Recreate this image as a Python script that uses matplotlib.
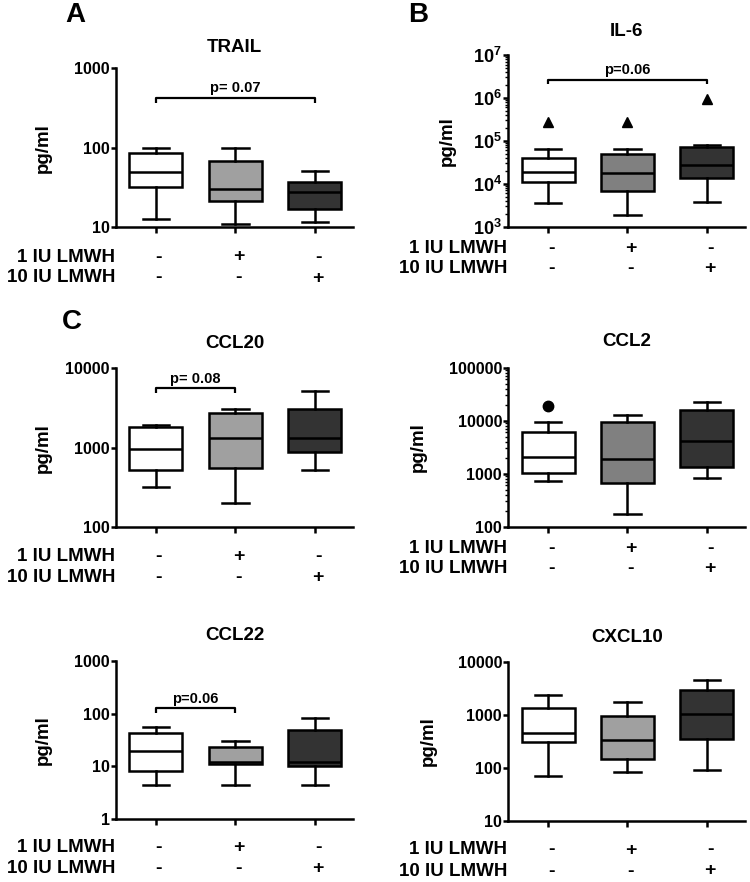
import numpy as np
import matplotlib.pyplot as plt
from matplotlib.ticker import LogLocator, NullLocator, NullFormatter
from matplotlib.transforms import blended_transform_factory

plt.rcParams['font.family'] = ['Liberation Sans', 'DejaVu Sans']
plt.rcParams['font.weight'] = 'bold'
plt.rcParams['mathtext.fontset'] = 'custom'
plt.rcParams['mathtext.rm'] = 'Liberation Sans:bold'
plt.rcParams['mathtext.bf'] = 'Liberation Sans:bold'
plt.rcParams['mathtext.it'] = 'Liberation Sans:bold'

W, H = 750, 882

row_labels = ['1 IU LMWH', '10 IU LMWH']
row_signs = [['-', '+', '-'], ['-', '-', '+']]

# five-number summaries per group: whisker low, q1, median, q3, whisker high
trail = [[12.6, 32, 49, 86, 98], [11, 21.4, 30, 68, 98], [11.7, 17.1, 28, 37.5, 50.6]]
il6 = [[3500, 11000, 18800, 40000, 64700], [1840, 6900, 17900, 49400, 64700],
       [3770, 13400, 27900, 73300, 80200]]
il6_out = [[2.8e5], [2.8e5], [9.3e5]]
ccl20 = [[325, 531, 957, 1830, 1940], [202, 557, 1343, 2716, 3050], [526, 887, 1343, 3110, 5190]]
ccl2 = [[728, 1040, 2090, 6100, 9300], [176, 667, 1890, 9300, 12800],
        [817, 1355, 4200, 15900, 22800]]
ccl2_out = [[18900], [], []]
ccl22 = [[4.4, 8.3, 19.8, 42.3, 55], [4.4, 11.1, 11.9, 23.6, 30.3], [4.4, 10.1, 12.3, 49, 81.5]]
cxcl10 = [[70.6, 300, 457, 1316, 2316], [81.7, 146, 328, 944, 1710], [90, 352, 1045, 2918, 4450]]

# brackets: from group, to group, end height, bar height, text
trail_p = (1, 3, 369, 420, 'p= 0.07')
il6_p = (1, 3, 2.08e6, 2.6e6, 'p=0.06')
ccl20_p = (1, 2, 4850, 5600, 'p= 0.08')
ccl22_p = (1, 2, 101, 126, 'p=0.06')

trail_ticks = [10, 100, 1000]
il6_ticks = [1e3, 1e4, 1e5, 1e6, 1e7]
ccl20_ticks = [100, 1000, 10000]
ccl2_ticks = [100, 1000, 10000, 100000]
ccl22_ticks = [1, 10, 100, 1000]
cxcl10_ticks = [10, 100, 1000, 10000]

LW = 1.8


def fx(px):
    return px / W


def fy(py):
    return 1 - py / H


fig = plt.figure(figsize=(W / 100, H / 100), dpi=100)


def panel(title, data, ticks, rect, title_y, ylab_x, rows_y, fliers=None, marker='^',
          grey='#a0a0a0', bracket=None, minor=False, sup=False):
    l, t, r, b = rect
    ax = fig.add_axes([fx(l), fy(b), fx(r) - fx(l), (b - t) / H])
    stats = []
    for i, d in enumerate(data):
        s = dict(whislo=d[0], q1=d[1], med=d[2], q3=d[3], whishi=d[4],
                 fliers=fliers[i] if fliers else [])
        stats.append(s)
    bp = ax.bxp(stats, positions=[1, 2, 3], widths=0.667, patch_artist=True,
                boxprops=dict(linewidth=LW, edgecolor='black'),
                medianprops=dict(linewidth=LW, color='black'),
                whiskerprops=dict(linewidth=LW, color='black'),
                capprops=dict(linewidth=LW, color='black'),
                flierprops=dict(marker=marker, markerfacecolor='black',
                                markeredgecolor='black', markersize=7.5))
    for patch, c in zip(bp['boxes'], ['white', grey, '#333333']):
        patch.set_facecolor(c)

    ax.set_yscale('log')
    ax.set_ylim(ticks[0], ticks[-1])
    ax.set_xlim(0.5, 3.48)
    if sup:
        labels = [r'$10^{%d}$' % int(np.log10(v)) for v in ticks]
        fs = 13
    else:
        labels = [str(int(v)) for v in ticks]
        fs = 11.5
    ax.set_yticks(ticks)
    ax.set_yticklabels(labels, fontsize=fs, fontweight='bold')
    if minor:
        ax.yaxis.set_minor_locator(LogLocator(base=10, subs=np.arange(2, 10), numticks=20))
        ax.yaxis.set_minor_formatter(NullFormatter())
    else:
        ax.yaxis.set_minor_locator(NullLocator())
    ax.set_xticks([1, 2, 3])
    ax.set_xticklabels(['', '', ''])
    for sp in ['top', 'right']:
        ax.spines[sp].set_visible(False)
    for sp in ['left', 'bottom']:
        ax.spines[sp].set_linewidth(LW)
    ax.tick_params(axis='y', which='major', length=3.5, width=LW, pad=1)
    ax.tick_params(axis='y', which='minor', length=2, width=1)
    ax.tick_params(axis='x', length=4.5, width=LW)

    if bracket:
        x0, x1, lo, hi, txt = bracket
        ax.plot([x0, x0, x1, x1], [lo, hi, hi, lo], color='black', lw=1.6,
                solid_capstyle='butt')
        ax.annotate(txt, ((x0 + x1) / 2, hi), xytext=(0, 2), textcoords='offset points',
                    ha='center', va='bottom', fontsize=10.5, fontweight='bold')

    fig.text(fx((l + r) / 2), fy(title_y), title, ha='center', va='center',
             fontsize=13.5, fontweight='bold')
    fig.text(fx(ylab_x), fy((t + b) / 2), 'pg/ml', rotation=90, ha='center',
             va='center', fontsize=13.5, fontweight='bold')

    tr = blended_transform_factory(ax.transData, fig.transFigure)
    for k in range(2):
        fig.text(fx(l - 1), fy(rows_y[k]), row_labels[k], ha='right', va='center',
                 fontsize=13.5, fontweight='bold')
        for j in range(3):
            ax.text(j + 1.04, fy(rows_y[k]), row_signs[k][j], transform=tr,
                    ha='center', va='center', fontsize=14, fontweight='bold')
    return ax


panel('TRAIL', trail, trail_ticks, (116, 68.3, 353, 227.3), 47, 43, (257, 278),
      bracket=trail_p)
panel('IL-6', il6, il6_ticks, (508.3, 55, 745, 226.7), 32, 447, (248.3, 268.3),
      fliers=il6_out, marker='^', grey='#808080', bracket=il6_p, minor=True, sup=True)
panel('CCL20', ccl20, ccl20_ticks, (116, 368.3, 353, 527.3), 343, 43, (556.7, 577.7),
      bracket=ccl20_p)
panel('CCL2', ccl2, ccl2_ticks, (508.3, 367.7, 745, 526.7), 342, 418, (548.3, 568.3),
      fliers=ccl2_out, marker='o', grey='#808080', minor=True)
panel('CCL22', ccl22, ccl22_ticks, (116, 661, 353, 819), 635, 43, (847.3, 868.3),
      bracket=ccl22_p)
panel('CXCL10', cxcl10, cxcl10_ticks, (508.3, 661.7, 745, 820.7), 637, 428, (850, 871))

for letter, x, y in [('A', 75, 15), ('B', 418, 15), ('C', 72, 322)]:
    fig.text(fx(x), fy(y), letter, ha='center', va='center', fontsize=20, fontweight='bold')

fig.savefig('out.png', dpi=100)
